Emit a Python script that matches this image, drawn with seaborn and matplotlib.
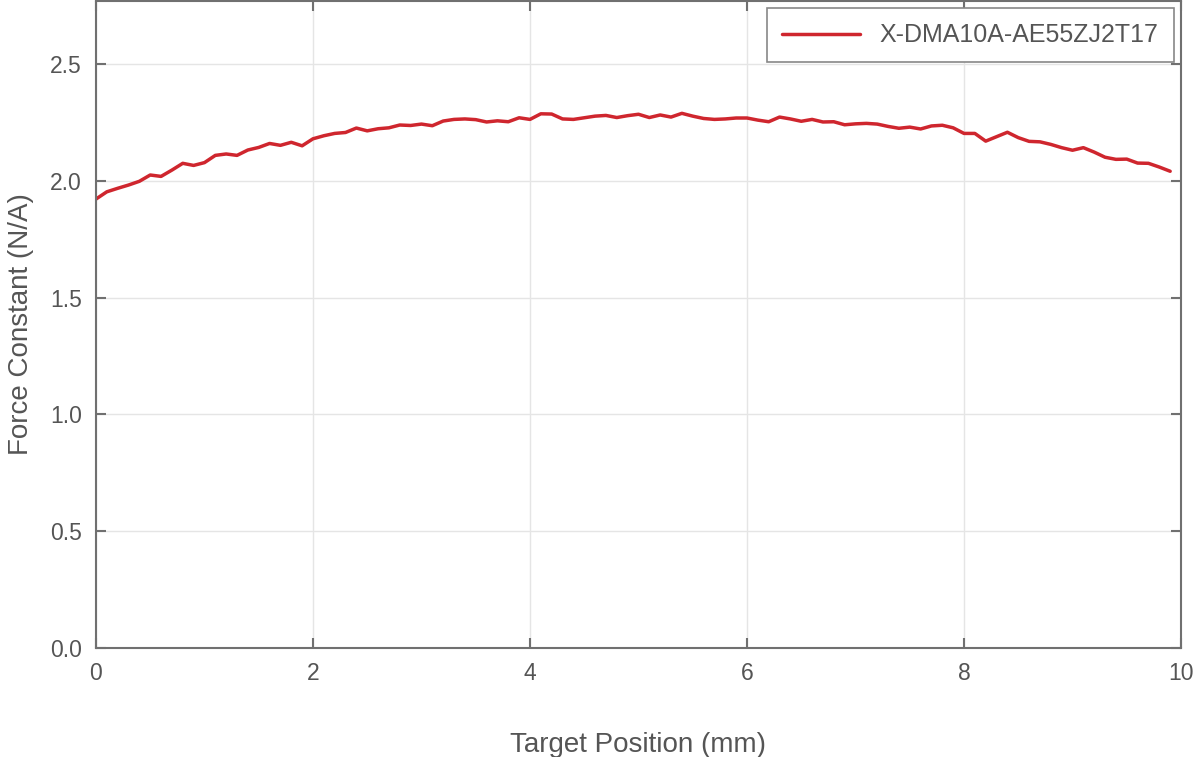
import numpy as np
import pandas as pd
import matplotlib
matplotlib.use("Agg")
import matplotlib.pyplot as plt
import seaborn as sns

# 측정 데이터 (0.1 mm 간격)
position = [round(i * 0.1, 1) for i in range(100)]
force_constant = [
    1.922, 1.953, 1.968, 1.982, 1.998, 2.025, 2.019, 2.046, 2.075, 2.066,
    2.078, 2.109, 2.115, 2.109, 2.132, 2.143, 2.160, 2.152, 2.165, 2.150,
    2.180, 2.193, 2.203, 2.207, 2.226, 2.214, 2.223, 2.227, 2.239, 2.237,
    2.243, 2.236, 2.256, 2.263, 2.265, 2.262, 2.252, 2.257, 2.253, 2.270,
    2.263, 2.287, 2.286, 2.265, 2.263, 2.270, 2.277, 2.280, 2.271, 2.279,
    2.285, 2.271, 2.282, 2.273, 2.289, 2.277, 2.267, 2.263, 2.265, 2.269,
    2.269, 2.260, 2.253, 2.273, 2.265, 2.255, 2.263, 2.252, 2.253, 2.240,
    2.244, 2.246, 2.243, 2.233, 2.225, 2.230, 2.222, 2.235, 2.238, 2.227,
    2.203, 2.203, 2.170, 2.189, 2.208, 2.185, 2.169, 2.167, 2.156, 2.142,
    2.131, 2.142, 2.123, 2.101, 2.092, 2.093, 2.076, 2.075, 2.059, 2.041,
]
series_name = "X-DMA10A-AE55ZJ2T17"
x_ticks = [0, 2, 4, 6, 8, 10]
y_ticks = [0.0, 0.5, 1.0, 1.5, 2.0, 2.5]

df = pd.DataFrame({"Target Position (mm)": position,
                   "Force Constant (N/A)": force_constant,
                   "model": series_name})

sns.set_theme(style="whitegrid")
plt.rcParams["font.family"] = ["Liberation Sans", "DejaVu Sans"]
text_color = "#555555"
spine_color = "#707070"

fig = plt.figure(figsize=(11.95, 7.57), dpi=100)
ax = fig.add_axes([0.0803, 0.144, 0.908, 0.8547])

sns.lineplot(data=df, x="Target Position (mm)", y="Force Constant (N/A)",
             hue="model", palette=["#cf262e"], linewidth=2.5, ax=ax)

ax.set_xlim(0, 10)
ax.set_ylim(0, 2.77)
ax.set_xticks(x_ticks)
ax.set_xticklabels([str(t) for t in x_ticks])
ax.set_yticks(y_ticks)
ax.set_yticklabels([f"{t:.1f}" for t in y_ticks])

ax.grid(True, color="#e5e5e5", linewidth=1.0)
for s in ax.spines.values():
    s.set_visible(True)
    s.set_color(spine_color)
    s.set_linewidth(1.5)

ax.tick_params(axis="both", which="major", direction="in", length=7, width=1.5,
               color=spine_color, labelsize=16.5, labelcolor=text_color,
               top=True, right=True, bottom=True, left=True, pad=10)

ax.set_xlabel("Target Position (mm)", fontsize=20, color=text_color, labelpad=34)
ax.set_ylabel("Force Constant (N/A)", fontsize=20, color=text_color, labelpad=12)

leg = ax.legend(loc="upper right", fontsize=18, frameon=True, fancybox=False,
                edgecolor="#888888", handlelength=3.1, handletextpad=0.8,
                borderpad=0.6, borderaxespad=0.3, labelcolor=text_color)
leg.get_frame().set_linewidth(1.2)
leg.get_frame().set_facecolor("white")
leg.get_frame().set_alpha(1.0)
for h in leg.get_lines():
    h.set_linewidth(2.5)

fig.savefig("out.png", dpi=100)
